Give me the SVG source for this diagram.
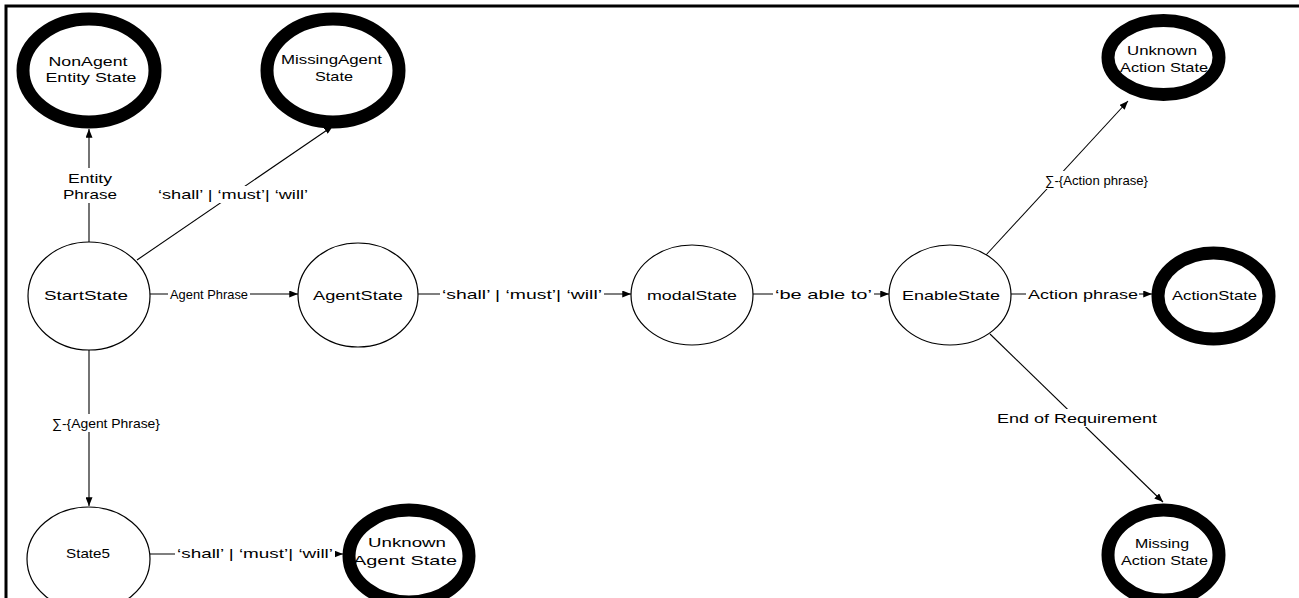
<svg xmlns="http://www.w3.org/2000/svg" width="1299" height="598" viewBox="0 0 1299 598">
  <style>
    .state { fill: #fff; stroke: #000; stroke-width: 1.2; }
    .final { fill: #fff; stroke: #000; stroke-width: 13; }
    .edge { fill: none; stroke: #000; stroke-width: 1.1; marker-end: url(#arrow); }
    .lbl { font-family: "Liberation Sans", Arial, sans-serif; font-size: 13.5px; fill: #000; text-anchor: middle; }
    .bg { fill: #fff; }
  </style>
  <defs>
    <marker id="arrow" viewBox="0 0 10 8" refX="10" refY="4" markerWidth="9" markerHeight="7" markerUnits="userSpaceOnUse" orient="auto">
      <path d="M0,0 L10,4 L0,8 z" fill="#000"/>
    </marker>
  </defs>
  <rect width="1299" height="598" fill="#fff"/>
  <!-- frame: top and left edges only -->
  <path d="M6,598 V6 H1299" fill="none" stroke="#000" stroke-width="3"/>

  <g id="connectors">
    <!-- StartState -> NonAgent Entity State -->
    <line class="edge" x1="89" y1="242" x2="89" y2="129"/>
    <rect class="bg" x="64" y="168" width="52" height="35"/>
    <text class="lbl" x="90" y="183" textLength="44" lengthAdjust="spacingAndGlyphs">Entity</text>
    <text class="lbl" x="90" y="199" textLength="54" lengthAdjust="spacingAndGlyphs">Phrase</text>
    <!-- StartState -> MissingAgent State -->
    <line class="edge" x1="137" y1="260" x2="333" y2="126"/>
    <rect class="bg" x="156" y="186" width="154" height="17"/>
    <text class="lbl" x="233" y="199" textLength="150" lengthAdjust="spacingAndGlyphs">‘shall’ | ‘must’| ‘will’</text>
    <!-- StartState -> AgentState -->
    <line class="edge" x1="150" y1="294" x2="298" y2="294"/>
    <rect class="bg" x="168" y="284" width="82" height="20"/>
    <text class="lbl" x="209" y="299" textLength="78" lengthAdjust="spacingAndGlyphs">Agent Phrase</text>
    <!-- AgentState -> modalState -->
    <line class="edge" x1="418" y1="294" x2="631" y2="294"/>
    <rect class="bg" x="440" y="284" width="164" height="20"/>
    <text class="lbl" x="522" y="299" textLength="160" lengthAdjust="spacingAndGlyphs">‘shall’ | ‘must’| ‘will’</text>
    <!-- modalState -> EnableState -->
    <line class="edge" x1="753" y1="294" x2="889" y2="294"/>
    <rect class="bg" x="773" y="284" width="101" height="20"/>
    <text class="lbl" x="823.5" y="299" textLength="97" lengthAdjust="spacingAndGlyphs">‘be able to’</text>
    <!-- EnableState -> ActionState -->
    <line class="edge" x1="1011" y1="294" x2="1152" y2="294"/>
    <rect class="bg" x="1026" y="284" width="113" height="20"/>
    <text class="lbl" x="1083" y="299" textLength="110" lengthAdjust="spacingAndGlyphs">Action phrase</text>
    <!-- EnableState -> Unknown Action State -->
    <line class="edge" x1="986" y1="255" x2="1128" y2="101"/>
    <rect class="bg" x="1043" y="171" width="107" height="18"/>
    <text class="lbl" x="1096.5" y="185" textLength="103" lengthAdjust="spacingAndGlyphs">∑-{Action phrase}</text>
    <!-- EnableState -> Missing Action State -->
    <line class="edge" x1="990" y1="334" x2="1163" y2="502"/>
    <rect class="bg" x="995" y="409" width="164" height="18"/>
    <text class="lbl" x="1077" y="423" textLength="160" lengthAdjust="spacingAndGlyphs">End of Requirement</text>
    <!-- StartState -> State5 -->
    <line class="edge" x1="89" y1="350" x2="89" y2="506"/>
    <rect class="bg" x="50" y="414" width="112" height="18"/>
    <text class="lbl" x="106" y="428" textLength="108" lengthAdjust="spacingAndGlyphs">∑-{Agent Phrase}</text>
    <!-- State5 -> Unknown Agent State -->
    <line class="edge" x1="150" y1="554" x2="343" y2="554"/>
    <rect class="bg" x="175" y="544" width="160" height="20"/>
    <text class="lbl" x="255" y="558" textLength="156" lengthAdjust="spacingAndGlyphs">‘shall’ | ‘must’| ‘will’</text>
  </g>

  <g id="nonAgentEntityState">
    <ellipse class="final" cx="89" cy="70.5" rx="66" ry="51.5"/>
    <text class="lbl" x="88" y="66" textLength="79" lengthAdjust="spacingAndGlyphs">NonAgent</text>
    <text class="lbl" x="91" y="82" textLength="91" lengthAdjust="spacingAndGlyphs">Entity State</text>
  </g>
  <g id="missingAgentState">
    <ellipse class="final" cx="333" cy="70.5" rx="66" ry="51.5"/>
    <text class="lbl" x="331.5" y="64" textLength="101" lengthAdjust="spacingAndGlyphs">MissingAgent</text>
    <text class="lbl" x="334" y="81" textLength="38" lengthAdjust="spacingAndGlyphs">State</text>
  </g>
  <g id="startState">
    <ellipse class="state" cx="89" cy="296" rx="61" ry="54"/>
    <text class="lbl" x="86" y="300" textLength="84" lengthAdjust="spacingAndGlyphs">StartState</text>
  </g>
  <g id="agentState">
    <ellipse class="state" cx="358" cy="295" rx="60" ry="52"/>
    <text class="lbl" x="358" y="300" textLength="90" lengthAdjust="spacingAndGlyphs">AgentState</text>
  </g>
  <g id="modalState">
    <ellipse class="state" cx="692" cy="295" rx="61" ry="50"/>
    <text class="lbl" x="692" y="300" textLength="90" lengthAdjust="spacingAndGlyphs">modalState</text>
  </g>
  <g id="enableState">
    <ellipse class="state" cx="950" cy="295" rx="61" ry="50"/>
    <text class="lbl" x="951" y="300" textLength="98" lengthAdjust="spacingAndGlyphs">EnableState</text>
  </g>
  <g id="actionState">
    <ellipse class="final" cx="1213.5" cy="296" rx="55.5" ry="43"/>
    <text class="lbl" x="1214.5" y="300" textLength="85" lengthAdjust="spacingAndGlyphs">ActionState</text>
  </g>
  <g id="unknownActionState">
    <ellipse class="final" cx="1163.5" cy="57.5" rx="55.5" ry="37"/>
    <text class="lbl" x="1162" y="55" textLength="70" lengthAdjust="spacingAndGlyphs">Unknown</text>
    <text class="lbl" x="1164" y="72" textLength="88" lengthAdjust="spacingAndGlyphs">Action State</text>
  </g>
  <g id="state5">
    <ellipse class="state" cx="88.5" cy="559" rx="61.5" ry="52"/>
    <text class="lbl" x="88" y="558" textLength="44" lengthAdjust="spacingAndGlyphs">State5</text>
  </g>
  <g id="unknownAgentState">
    <ellipse class="final" cx="409" cy="556" rx="60" ry="46"/>
    <text class="lbl" x="407" y="547" textLength="78" lengthAdjust="spacingAndGlyphs">Unknown</text>
    <text class="lbl" x="405" y="565" textLength="104" lengthAdjust="spacingAndGlyphs">Agent State</text>
  </g>
  <g id="missingActionState">
    <ellipse class="final" cx="1163.5" cy="555" rx="55.5" ry="45"/>
    <text class="lbl" x="1162" y="548" textLength="54" lengthAdjust="spacingAndGlyphs">Missing</text>
    <text class="lbl" x="1164.5" y="565" textLength="87" lengthAdjust="spacingAndGlyphs">Action State</text>
  </g>
</svg>
